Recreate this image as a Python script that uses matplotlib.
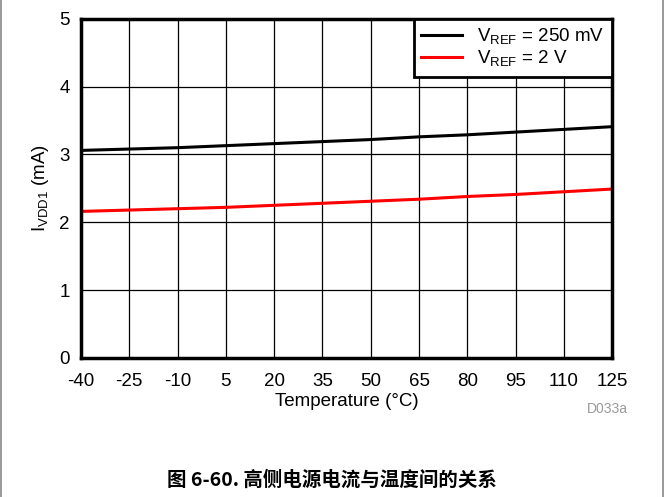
import matplotlib
matplotlib.use('Agg')
import matplotlib.pyplot as plt
from matplotlib.lines import Line2D

plt.rcParams['font.family'] = ['Liberation Sans', 'Noto Sans CJK SC']
plt.rcParams['mathtext.fontset'] = 'custom'
plt.rcParams['mathtext.rm'] = 'Liberation Sans'
plt.rcParams['axes.unicode_minus'] = False

temps = [-40, -25, -10, 5, 20, 35, 50, 65, 80, 95, 110, 125]
i_250mv = [3.06, 3.08, 3.10, 3.13, 3.16, 3.19, 3.22, 3.26, 3.29, 3.33, 3.37, 3.41]
i_2v = [2.16, 2.18, 2.20, 2.22, 2.25, 2.28, 2.31, 2.34, 2.38, 2.41, 2.45, 2.49]
yticks = [0, 1, 2, 3, 4, 5]

fig = plt.figure(figsize=(6.64, 4.97), dpi=100)
ax = fig.add_axes([0.122, 0.280, 0.800, 0.682])

ax.plot(temps, i_250mv, color='black', lw=2.2, label=r'V$_{\mathregular{REF}}$ = 250 mV')
ax.plot(temps, i_2v, color='#ff0000', lw=2.2, label=r'V$_{\mathregular{REF}}$ = 2 V')

ax.set_xlim(-40, 125)
ax.set_ylim(0, 5)
ax.set_xticks(temps)
ax.set_yticks(yticks)
ax.grid(True, color='black', lw=0.9)
ax.set_axisbelow(True)
ax.tick_params(length=0, labelsize=13.5, pad=8)
ax.tick_params(axis='x', pad=11)
for s in ax.spines.values():
    s.set_linewidth(2.5)

ax.set_xlabel('Temperature (°C)', fontsize=13.5, labelpad=2)
ax.set_ylabel(r'I$_{\mathregular{VDD1}}$ (mA)', fontsize=13.5, labelpad=6)

leg = ax.legend(loc='upper right', fontsize=13.5, frameon=True, fancybox=False,
                borderaxespad=0, handlelength=2.2, borderpad=0.4, labelspacing=0.12,
                handletextpad=0.8)
leg.get_frame().set_edgecolor('black')
leg.get_frame().set_linewidth(2)
leg.get_frame().set_alpha(1)

fig.text(0.915, 0.170, 'D033a', color='#999999', fontsize=10, ha='center')
fig.text(0.5, 0.022, '图 6-60. 高侧电源电流与温度间的关系', fontsize=14, fontweight='bold',
         ha='center', family=['Noto Sans CJK SC'])

# grey frame on the sides of the figure
fig.add_artist(Line2D([0.002, 0.002], [0, 1], color='#888888', lw=1.2, transform=fig.transFigure))
fig.add_artist(Line2D([0.998, 0.998], [0, 1], color='#888888', lw=1.2, transform=fig.transFigure))

fig.savefig('out.png', dpi=100)
